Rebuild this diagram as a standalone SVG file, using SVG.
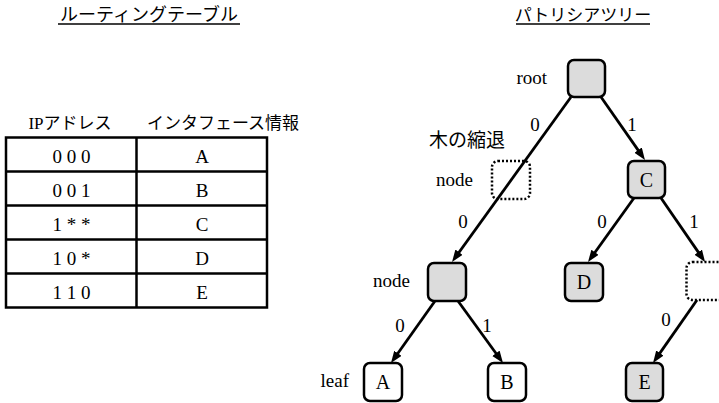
<svg xmlns="http://www.w3.org/2000/svg" width="719" height="403" viewBox="0 0 719 403">
<style>
.jp{font-family:"Noto Sans CJK JP","Noto Sans",sans-serif;fill:#000}
.mix{font-family:"Liberation Serif","Times New Roman","DejaVu Serif","Noto Sans CJK JP",serif;fill:#000}
.sr{font-family:"Liberation Serif","Times New Roman","DejaVu Serif",serif;fill:#000;font-size:19px}
.cell{font-family:"Liberation Serif","Times New Roman","DejaVu Serif",serif;font-size:19px;text-anchor:middle;fill:#000}
.nl{font-family:"Liberation Serif","Times New Roman","DejaVu Serif",serif;font-size:20px;text-anchor:middle;fill:#000}
.box{stroke:#000;stroke-width:2.5}
.gray{fill:#dcdcdc}
.white{fill:#fff}
.dot{fill:none;stroke:#000;stroke-width:2.5;stroke-dasharray:2 2}
.edge{stroke:#000;stroke-width:2.8;fill:none;marker-end:url(#arr)}
.tl{stroke:#000;stroke-width:2.5;fill:none}
</style>
<defs>
<marker id="arr" markerUnits="userSpaceOnUse" markerWidth="12" markerHeight="10" refX="4" refY="4.5" orient="auto">
<path d="M0,0 L12,4.5 L0,9 z" fill="#000"/>
</marker>
</defs>
<rect width="719" height="403" fill="#fff"/>

<g id="title-table">
<text class="jp" x="149" y="21" font-size="18" text-anchor="middle">ルーティングテーブル</text>
<line x1="58" y1="24" x2="240" y2="24" stroke="#000" stroke-width="1.3"/>
</g>
<g id="title-tree">
<text class="jp" x="583" y="21" font-size="17" text-anchor="middle">パトリシアツリー</text>
<line x1="516" y1="24" x2="650" y2="24" stroke="#000" stroke-width="1.3"/>
</g>

<g id="routing-table">
<text class="mix" x="70" y="129" font-size="17" text-anchor="middle">IPアドレス</text>
<text class="jp" x="223" y="129" font-size="17" text-anchor="middle">インタフェース情報</text>
<rect class="tl" x="6" y="137.5" width="261" height="170"/>
<line class="tl" x1="136.5" y1="137.5" x2="136.5" y2="307.5"/>
<line class="tl" x1="6" y1="171.5" x2="267" y2="171.5"/>
<line class="tl" x1="6" y1="205.5" x2="267" y2="205.5"/>
<line class="tl" x1="6" y1="239.5" x2="267" y2="239.5"/>
<line class="tl" x1="6" y1="273.5" x2="267" y2="273.5"/>
<text class="cell" x="71.5" y="163">0 0 0</text>
<text class="cell" x="202" y="163">A</text>
<text class="cell" x="71.5" y="197">0 0 1</text>
<text class="cell" x="202" y="197">B</text>
<text class="cell" x="71.5" y="231">1 * *</text>
<text class="cell" x="202" y="231">C</text>
<text class="cell" x="71.5" y="265">1 0 *</text>
<text class="cell" x="202" y="265">D</text>
<text class="cell" x="71.5" y="299">1 1 0</text>
<text class="cell" x="202" y="299">E</text>
</g>

<g id="node-root">
<rect class="box gray" x="568" y="60" width="37" height="37" rx="6"/>
<text class="sr" x="547" y="84" text-anchor="end">root</text>
</g>
<g id="node-shrunk">
<rect class="dot" x="492" y="161" width="38" height="38" rx="6"/>
<text class="sr" x="473" y="186" text-anchor="end">node</text>
</g>
<g id="node-C">
<rect class="box gray" x="628" y="161" width="37" height="37" rx="6"/>
<text class="nl" x="646.5" y="187">C</text>
</g>
<g id="node-mid">
<rect class="box gray" x="428" y="263" width="38" height="38" rx="6"/>
<text class="sr" x="410" y="287" text-anchor="end">node</text>
</g>
<g id="node-D">
<rect class="box gray" x="565" y="263" width="38" height="38" rx="6"/>
<text class="nl" x="584" y="289">D</text>
</g>
<g id="node-right">
<rect class="dot" x="686.5" y="262" width="40" height="38" rx="6"/>
</g>
<g id="node-A">
<rect class="box white" x="364" y="363" width="38" height="38" rx="6"/>
<text class="nl" x="383" y="389">A</text>
<text class="sr" x="349" y="387" text-anchor="end">leaf</text>
</g>
<g id="node-B">
<rect class="box white" x="488" y="363" width="38" height="38" rx="6"/>
<text class="nl" x="507" y="389">B</text>
</g>
<g id="node-E">
<rect class="box gray" x="626" y="363" width="37" height="38" rx="6"/>
<text class="nl" x="644.5" y="389">E</text>
</g>

<g id="connectors">
<path class="edge" d="M571,97 L456.7,255.5"/>
<path class="edge" d="M601,97 L640.4,153.4"/>
<path class="edge" d="M634,198 L592.7,255.5"/>
<path class="edge" d="M661,198 L700.5,255.4"/>
<path class="edge" d="M435,301 L395.6,356.5"/>
<path class="edge" d="M458,301 L498.3,356.5"/>
<path class="edge" d="M697,300 L657.6,356.4"/>
</g>

<g id="labels">
<text class="jp" x="467" y="147" font-size="19" text-anchor="middle">木の縮退</text>
<text class="sr" x="535" y="131" text-anchor="middle">0</text>
<text class="sr" x="632" y="131" text-anchor="middle">1</text>
<text class="sr" x="463" y="228" text-anchor="middle">0</text>
<text class="sr" x="602" y="228" text-anchor="middle">0</text>
<text class="sr" x="694" y="228" text-anchor="middle">1</text>
<text class="sr" x="400" y="332" text-anchor="middle">0</text>
<text class="sr" x="487" y="332" text-anchor="middle">1</text>
<text class="sr" x="666" y="326" text-anchor="middle">0</text>
</g>
</svg>
